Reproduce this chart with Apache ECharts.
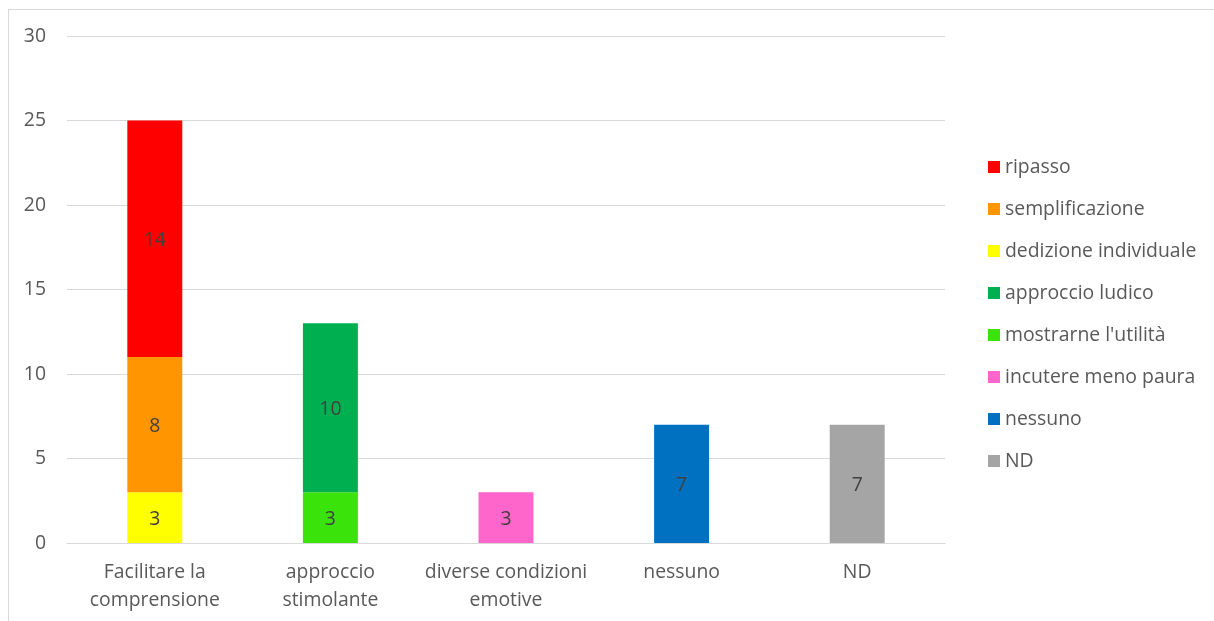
<!DOCTYPE html>
<html>
<head>
<meta charset="utf-8">
<script src="https://cdn.jsdelivr.net/npm/echarts@6/dist/echarts.min.js"></script>
<style>
  html, body { margin: 0; padding: 0; background: #fff; overflow: hidden; }
  #frame { position: absolute; left: 8px; top: 9px; width: 1206px; height: 612px; border-top: 1px solid #d9d9d9; border-left: 1px solid #d9d9d9; box-sizing: border-box; }
  #chart { position: absolute; left: 0; top: 0; width: 1214px; height: 621px; }
</style>
</head>
<body>
<div id="frame"></div>
<div id="chart"></div>
<script>
// Categories on the x axis
const categories = ['Facilitare la\ncomprensione', 'approccio\nstimolante', 'diverse condizioni\nemotive', 'nessuno', 'ND'];

// One array per answer group, aligned with categories (null = not present)
const ripasso            = [14, null, null, null, null];
const semplificazione    = [8, null, null, null, null];
const dedizioneIndiv     = [3, null, null, null, null];
const approccioLudico    = [null, 10, null, null, null];
const mostrarneUtilita   = [null, 3, null, null, null];
const incutereMenoPaura  = [null, null, 3, null, null];
const nessuno            = [null, null, null, 7, null];
const nd                 = [null, null, null, null, 7];

const yTicks = { min: 0, max: 30, interval: 5 };

const FONT = '"Open Sans", sans-serif';
const FS = 19.4;

// Bottom-to-top stacking order
const seriesDefs = [
  { name: 'dedizione individuale', data: dedizioneIndiv, color: '#FFFF00' },
  { name: 'semplificazione', data: semplificazione, color: '#FF9500' },
  { name: 'ripasso', data: ripasso, color: '#FF0000' },
  { name: "mostrarne l'utilità", data: mostrarneUtilita, color: '#3AE40A' },
  { name: 'approccio ludico', data: approccioLudico, color: '#00B050' },
  { name: 'incutere meno paura', data: incutereMenoPaura, color: '#FF66CC' },
  { name: 'nessuno', data: nessuno, color: '#0070C0' },
  { name: 'ND', data: nd, color: '#A5A5A5' }
];

const legendOrder = ['ripasso', 'semplificazione', 'dedizione individuale', 'approccio ludico',
  "mostrarne l'utilità", 'incutere meno paura', 'nessuno', 'ND'];

const chart = echarts.init(document.getElementById('chart'), null, { renderer: 'canvas' });

chart.setOption({
  animation: false,
  textStyle: { fontFamily: FONT },
  grid: { left: 67, right: 269, top: 36, bottom: 78, containLabel: false },
  legend: {
    orient: 'vertical',
    left: 988,
    top: 157,
    padding: 0,
    data: legendOrder,
    icon: 'rect',
    itemWidth: 12,
    itemHeight: 12,
    itemGap: 22,
    textStyle: { fontFamily: FONT, fontSize: FS, color: '#595959', lineHeight: 20 }
  },
  xAxis: {
    type: 'category',
    data: categories,
    axisLine: { lineStyle: { color: '#d9d9d9', width: 1 } },
    axisTick: { show: false },
    axisLabel: { fontFamily: FONT, fontSize: FS, color: '#595959', lineHeight: 28, margin: 15, interval: 0 }
  },
  yAxis: {
    type: 'value',
    min: yTicks.min,
    max: yTicks.max,
    interval: yTicks.interval,
    axisLine: { show: false },
    axisTick: { show: false },
    splitLine: { lineStyle: { color: '#d9d9d9', width: 1 } },
    axisLabel: { fontFamily: FONT, fontSize: FS, color: '#595959', margin: 21 }
  },
  series: seriesDefs.map(s => ({
    name: s.name,
    type: 'bar',
    stack: 'total',
    data: s.data,
    barWidth: '31.3%',
    itemStyle: { color: s.color },
    label: {
      show: true,
      position: 'inside',
      offset: [0, 2],
      fontFamily: FONT,
      fontSize: FS,
      color: '#404040',
      formatter: p => (p.value == null ? '' : p.value)
    }
  }))
});
</script>
</body>
</html>
